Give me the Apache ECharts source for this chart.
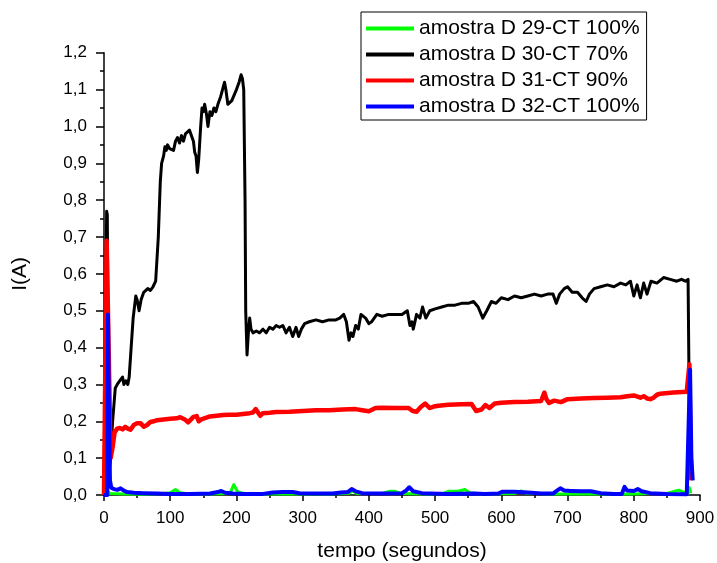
<!DOCTYPE html>
<html>
<head>
<meta charset="utf-8">
<script src="https://cdn.jsdelivr.net/npm/echarts@6/dist/echarts.min.js"></script>
<style>html,body{margin:0;padding:0;background:#fff}#c{width:717px;height:563px}</style>
</head>
<body>
<div id="c"></div>
<script>
// Series names
var seriesNames = ['amostra D 29-CT 100%', 'amostra D 30-CT 70%', 'amostra D 31-CT 90%', 'amostra D 32-CT 100%'];

// [time (s), I (A)]
var d29 = [[0,0],[5,0],[6,0.01],[9,0.004],[30,0.003],[60,0.002],[90,0.004],[100,0.006],[108,0.015],[115,0.006],
  [130,0.003],[150,0.003],[190,0.004],[196,0.028],[202,0.008],[215,0.003],[260,0.003],[300,0.003],[340,0.003],[370,0.005],
  [375,0.011],[382,0.004],[420,0.004],[432,0.01],[440,0.01],[448,0.004],[490,0.003],[512,0.004],[520,0.01],[535,0.01],
  [545,0.015],[552,0.006],[570,0.003],[620,0.004],[630,0.011],[637,0.005],[680,0.003],[720,0.003],[780,0.003],[800,0.003],
  [820,0.004],[850,0.004],[862,0.01],[868,0.013],[875,0.008],[882,0.004],[884,0.02],[886,0.005]];

var d30 = [[0,0],[3,0],[4,0.77],[5,0.76],[7,0.05],[10,0.1],[13,0.2],[17,0.29],[20,0.3],[24,0.31],
  [27,0.305],[28,0.32],[30,0.3],[33,0.31],[36,0.3],[38,0.32],[41,0.4],[44,0.48],[48,0.54],[50,0.53],
  [53,0.5],[56,0.53],[60,0.55],[63,0.545],[66,0.56],[70,0.555],[74,0.565],[78,0.58],[82,0.7],[85,0.85],
  [87,0.9],[90,0.92],[92,0.945],[94,0.935],[96,0.95],[99,0.94],[102,0.945],[105,0.935],[108,0.96],[111,0.97],
  [114,0.955],[117,0.975],[120,0.96],[123,0.98],[126,0.975],[129,0.99],[131,0.985],[133,0.97],[135,0.96],[137,0.93],
  [139,0.92],[141,0.875],[143,0.91],[146,1.0],[148,1.05],[150,1.04],[152,1.06],[155,1.03],[157,1.0],[160,1.04],
  [163,1.03],[166,1.05],[169,1.04],[172,1.06],[176,1.08],[179,1.1],[182,1.12],[184,1.1],[187,1.06],[190,1.055],
  [193,1.07],[196,1.065],[200,1.1],[204,1.12],[207,1.14],[209,1.13],[211,1.1],[213,0.8],[214,0.5],[216,0.38],
  [218,0.44],[220,0.48],[222,0.45],[225,0.44],[230,0.445],[235,0.44],[240,0.45],[245,0.44],[250,0.455],[255,0.45],
  [260,0.46],[265,0.455],[270,0.46],[275,0.44],[280,0.455],[285,0.43],[290,0.455],[294,0.43],[298,0.45],[303,0.465],
  [310,0.47],[320,0.475],[330,0.47],[340,0.475],[350,0.475],[356,0.48],[362,0.49],[366,0.47],[370,0.42],[373,0.44],
  [376,0.43],[380,0.46],[384,0.45],[388,0.49],[395,0.48],[400,0.465],[404,0.47],[412,0.49],[420,0.485],[430,0.49],
  [440,0.49],[450,0.49],[458,0.5],[462,0.46],[465,0.47],[467,0.45],[472,0.49],[477,0.48],[481,0.51],[486,0.48],
  [492,0.5],[500,0.505],[510,0.51],[520,0.515],[530,0.515],[540,0.52],[550,0.52],[558,0.525],[565,0.51],[572,0.48],
  [578,0.5],[585,0.525],[592,0.52],[600,0.535],[610,0.53],[620,0.54],[630,0.535],[640,0.54],[650,0.545],[660,0.54],
  [670,0.545],[678,0.545],[683,0.52],[688,0.545],[695,0.56],[700,0.565],[707,0.55],[715,0.55],[722,0.535],[728,0.525],
  [733,0.545],[740,0.56],[750,0.565],[760,0.57],[770,0.565],[780,0.575],[788,0.57],[795,0.58],[800,0.54],[805,0.57],
  [810,0.535],[815,0.575],[820,0.545],[826,0.58],[835,0.575],[845,0.59],[855,0.585],[865,0.58],[872,0.585],[878,0.58],
  [882,0.585],[883.5,0.3]];

var d31 = [[0,0],[3,0],[4,0.69],[5,0.69],[8,0.3],[10,0.1],[13,0.13],[16,0.17],[20,0.18],[24,0.182],
  [28,0.178],[32,0.185],[36,0.18],[40,0.177],[45,0.19],[50,0.195],[55,0.195],[60,0.185],[65,0.19],[70,0.198],
  [75,0.2],[80,0.203],[90,0.205],[100,0.207],[110,0.208],[115,0.211],[118,0.212],[122,0.205],[127,0.197],[130,0.2],
  [135,0.212],[140,0.214],[143,0.2],[147,0.205],[150,0.21],[160,0.213],[170,0.215],[180,0.217],[190,0.218],[200,0.218],
  [210,0.22],[220,0.222],[225,0.224],[229,0.233],[232,0.228],[236,0.215],[240,0.222],[250,0.223],[260,0.225],[280,0.226],
  [300,0.228],[320,0.23],[340,0.23],[360,0.232],[380,0.233],[390,0.23],[400,0.227],[410,0.236],[420,0.237],[440,0.236],
  [460,0.236],[466,0.228],[472,0.226],[478,0.238],[485,0.248],[492,0.236],[498,0.24],[505,0.242],[520,0.245],[540,0.246],
  [555,0.247],[562,0.228],[570,0.232],[576,0.244],[582,0.236],[590,0.248],[600,0.25],[620,0.252],[640,0.253],[660,0.255],
  [665,0.278],[668,0.26],[672,0.25],[680,0.256],[690,0.252],[700,0.26],[720,0.262],[740,0.263],[760,0.264],[780,0.265],
  [790,0.268],[800,0.27],[810,0.264],[815,0.268],[820,0.262],[825,0.26],[830,0.264],[835,0.272],[840,0.275],[860,0.278],
  [880,0.28],[883,0.283],[884,0.355],[885,0.2],[887,0.04]];

var d32 = [[0,0],[5,0],[6,0.49],[7,0.3],[9,0.04],[11,0.02],[15,0.016],[20,0.014],[25,0.018],[30,0.012],
  [35,0.008],[45,0.006],[60,0.005],[80,0.004],[100,0.003],[130,0.003],[160,0.004],[172,0.008],[177,0.011],[183,0.006],
  [195,0.004],[210,0.003],[240,0.003],[255,0.007],[270,0.008],[285,0.008],[295,0.005],[320,0.004],[345,0.004],[358,0.007],
  [368,0.008],[374,0.016],[380,0.01],[390,0.005],[420,0.004],[450,0.005],[456,0.012],[461,0.021],[467,0.01],[480,0.005],
  [520,0.003],[560,0.004],[575,0.003],[595,0.004],[602,0.009],[620,0.009],[640,0.007],[660,0.004],[678,0.004],[684,0.012],
  [689,0.018],[695,0.012],[705,0.011],[720,0.01],[735,0.01],[750,0.005],[770,0.003],[782,0.003],[786,0.022],[790,0.012],
  [800,0.011],[806,0.016],[812,0.01],[825,0.005],[850,0.003],[880,0.002],[883,0.004],[885,0.34],[887,0.1],[889,0.04]];

var seriesData = [d29, d30, d31, d32];
var seriesColors = ['#00ff00', '#000000', '#ff0000', '#0000ff'];
var seriesWidths = [3, 3, 4.5, 4];

var xTitle = 'tempo (segundos)';
var yTitle = 'I(A)';

var chart = echarts.init(document.getElementById('c'), null, {renderer: 'canvas'});
var FONT = 'Liberation Sans, Arial, sans-serif';
var option = {
  animation: false,
  backgroundColor: '#fff',
  grid: {left: 104, right: 17, top: 52.7, bottom: 68, containLabel: false, outerBoundsMode: 'none'},
  legend: {
    orient: 'vertical',
    left: 361, top: 12,
    data: seriesNames,
    icon: 'rect',
    itemWidth: 48, itemHeight: 4,
    itemGap: 5,
    padding: [6, 7, 3, 5],
    borderColor: '#000', borderWidth: 1, borderRadius: 0,
    textStyle: {fontFamily: FONT, fontSize: 21, color: '#000', lineHeight: 21}
  },
  xAxis: {
    type: 'value', min: 0, max: 900, interval: 100,
    name: xTitle, nameLocation: 'middle', nameGap: 46,
    nameTextStyle: {fontFamily: FONT, fontSize: 21, color: '#000'},
    axisLine: {onZero: false, lineStyle: {color: '#000', width: 1.5}},
    axisTick: {inside: false, length: 6, lineStyle: {color: '#000', width: 1.5}},
    minorTick: {show: true, splitNumber: 2, length: 3, lineStyle: {color: '#000', width: 1.5}},
    axisLabel: {fontFamily: FONT, fontSize: 17, color: '#000', margin: 15},
    splitLine: {show: false}
  },
  yAxis: {
    type: 'value', min: 0, max: 1.2, interval: 0.1, offset: 3,
    name: yTitle, nameLocation: 'middle', nameGap: 70, nameRotate: 90,
    nameTextStyle: {fontFamily: FONT, fontSize: 21, color: '#000'},
    axisLine: {show: true, lineStyle: {color: '#000', width: 1.5}},
    axisTick: {show: true, inside: false, length: 8, lineStyle: {color: '#000', width: 1.5}},
    minorTick: {show: true, splitNumber: 2, length: 4, lineStyle: {color: '#000', width: 1.5}},
    axisLabel: {fontFamily: FONT, fontSize: 17, color: '#000', margin: 14,
      formatter: function (v) { return v.toFixed(1).replace('.', ','); }},
    splitLine: {show: false}
  },
  series: seriesNames.map(function (n, i) {
    return {
      name: n, type: 'line', data: seriesData[i], showSymbol: false, symbol: 'none',
      color: seriesColors[i],
      lineStyle: {color: seriesColors[i], width: seriesWidths[i], join: 'round'},
      z: 2 + i
    };
  })
};
chart.setOption(option);
</script>
</body>
</html>
